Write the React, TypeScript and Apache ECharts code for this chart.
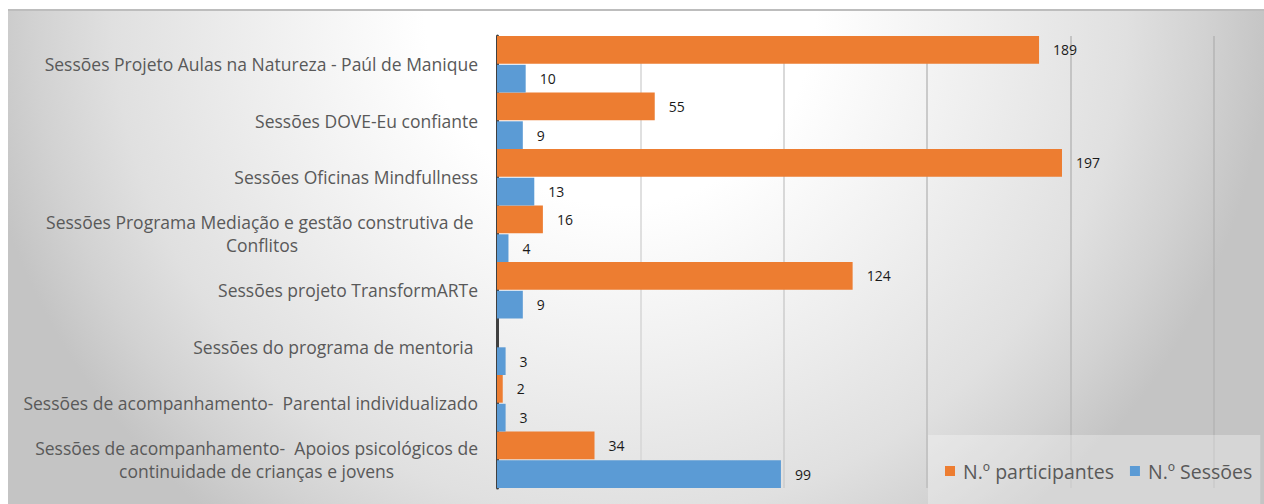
import React, { useEffect, useRef } from "react";
import * as echarts from "echarts";

const categories: string[] = [
  "Sessões Projeto Aulas na Natureza - Paúl de Manique",
  "Sessões DOVE-Eu confiante",
  "Sessões Oficinas Mindfullness",
  "Sessões Programa Mediação e gestão construtiva de \nConflitos",
  "Sessões projeto TransformARTe",
  "Sessões do programa de mentoria ",
  "Sessões de acompanhamento-  Parental individualizado",
  "Sessões de acompanhamento-  Apoios psicológicos de\ncontinuidade de crianças e jovens",
];

const participantes: (number | null)[] = [189, 55, 197, 16, 124, null, 2, 34];
const sessoes: number[] = [10, 9, 13, 4, 9, 3, 3, 99];

const seriesNames = ["N.º participantes", "N.º Sessões"];
const xTicks = { min: 0, max: 250, interval: 50 };

const FONT = "'Open Sans', 'Noto Sans', sans-serif";

export default function App() {
  const ref = useRef<HTMLDivElement>(null);

  useEffect(() => {
    if (!ref.current) return;
    const chart = echarts.init(ref.current, null, { renderer: "svg" });
    chart.setOption({
      animation: false,
      graphic: [
        {
          type: "rect",
          z: -100,
          silent: true,
          shape: { x: 8, y: 10, width: 1256, height: 494 },
          style: {
            fill: new echarts.graphic.RadialGradient(
              620,
              10,
              650,
              [
                { offset: 0, color: "#ffffff" },
                { offset: 0.3, color: "#ffffff" },
                { offset: 0.55, color: "#efefef" },
                { offset: 0.78, color: "#e0e0e0" },
                { offset: 0.9, color: "#d2d2d2" },
                { offset: 1, color: "#c4c4c4" },
              ],
              true
            ),
          },
        },
        {
          type: "line",
          z: -99,
          silent: true,
          shape: { x1: 8, y1: 10, x2: 1264, y2: 10 },
          style: { stroke: "#bdbdbd", lineWidth: 2 },
        },
      ],
      grid: { left: 497, right: 50, top: 36, bottom: 16, containLabel: false },
      legend: {
        data: seriesNames,
        left: 928,
        top: 435,
        padding: [25, 8, 23, 17],
        backgroundColor: "rgba(255,255,255,0.3)",
        icon: "rect",
        itemWidth: 10,
        itemHeight: 10,
        itemGap: 16,
        textStyle: {
          fontFamily: FONT,
          fontSize: 19.5,
          color: "#595959",
          lineHeight: 22,
          padding: [0, 0, 0, 3],
        },
      },
      xAxis: {
        type: "value",
        min: xTicks.min,
        max: xTicks.max,
        interval: xTicks.interval,
        axisLabel: { show: false },
        axisLine: { show: false },
        axisTick: { show: false },
        splitLine: {
          show: true,
          lineStyle: {
            color: ["#d9d9d9", "#d6d6d6", "#cdcdcd", "#bdbdbd", "#b8b8b8", "#b4b4b4"],
            width: 1.5,
          },
        },
      },
      yAxis: {
        type: "category",
        inverse: true,
        data: categories,
        axisLine: { show: true, lineStyle: { color: "#404040", width: 3 } },
        axisTick: { show: false },
        axisLabel: {
          margin: 19,
          align: "right",
          formatter: (v: string) =>
            v
              .split("\n")
              .map((l) => "{c|" + l + "}")
              .join("\n"),
          rich: {
            c: {
              align: "center",
              fontFamily: FONT,
              fontSize: 17.5,
              color: "#595959",
              lineHeight: 23,
            },
          },
        },
      },
      series: [
        {
          name: seriesNames[0],
          type: "bar",
          data: participantes,
          barCategoryGap: "0%",
          barGap: "4%",
          itemStyle: { color: "#ED7D31" },
          label: {
            show: true,
            position: "right",
            distance: 14,
            fontFamily: FONT,
            fontSize: 14,
            color: "#1a1a1a",
          },
        },
        {
          name: seriesNames[1],
          type: "bar",
          data: sessoes,
          barCategoryGap: "0%",
          barGap: "4%",
          itemStyle: { color: "#5B9BD5" },
          label: {
            show: true,
            position: "right",
            distance: 14,
            fontFamily: FONT,
            fontSize: 14,
            color: "#1a1a1a",
          },
        },
      ],
    });
    return () => chart.dispose();
  }, []);

  return (
    <div
      ref={ref}
      style={{ position: "absolute", left: 0, top: 0, width: 1264, height: 504 }}
    />
  );
}
